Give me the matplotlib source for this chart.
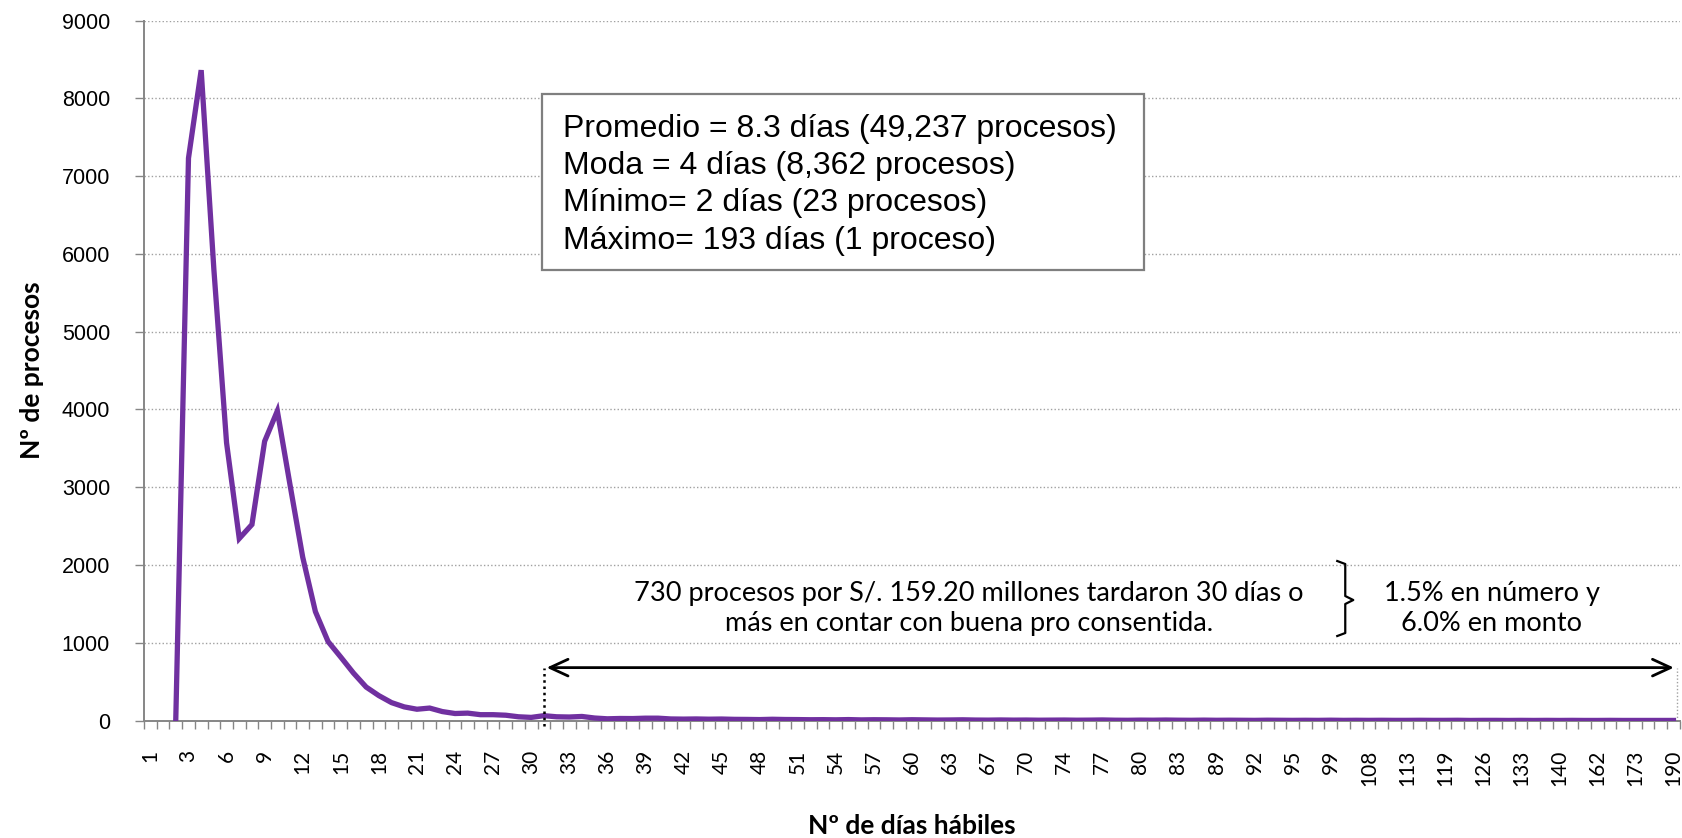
import matplotlib
matplotlib.use('Agg')
import matplotlib.pyplot as plt
from matplotlib.ticker import FixedLocator, MultipleLocator
import numpy as np

# categorias del eje x (dias habiles); la 2a categoria no tiene etiqueta
dias = (["1", ""] + [str(d) for d in range(2, 66)] +
        ["67", "68", "69", "70", "72", "73", "74", "75", "76", "77", "78",
         "79", "80", "81", "82", "83", "85", "86", "89", "90", "91", "92",
         "93", "94", "95", "96", "97", "99", "102", "105", "108", "110",
         "111", "113", "115", "117", "119", "121", "124", "126", "129",
         "131", "133", "135", "137", "140", "145", "150", "162", "165",
         "170", "173", "180", "185", "190"])

# numero de procesos por categoria (None = sin dato)
procesos = [None, None, 23, 7230, 8362, 5800, 3570, 2340, 2520, 3590,
            3980, 3030, 2100, 1400, 1015, 815, 610, 430, 320, 230,
            175, 145, 160, 115, 90, 95, 75, 75, 68, 48,
            40, 62, 48, 45, 52, 32, 22, 26, 25, 30,
            30, 20, 18, 20, 17, 19, 15, 14, 12, 16,
            13, 12, 10, 11, 9, 12, 8, 10, 9, 7,
            10, 8, 6, 7, 9, 6, 5, 7, 5, 6,
            4, 5, 6, 4, 5, 7, 4, 3, 5, 4,
            6, 4, 3, 5, 3, 4, 3, 2, 4, 3,
            2, 3, 2, 4, 2, 3, 2, 3, 2, 2,
            3, 2, 2, 3, 1, 2, 2, 1, 2, 1,
            2, 1, 2, 1, 1, 2, 1, 1, 1, 1,
            1]

resumen = ("Promedio = 8.3 días (49,237 procesos)\n"
           "Moda = 4 días (8,362 procesos)\n"
           "Mínimo= 2 días (23 procesos)\n"
           "Máximo= 193 días (1 proceso)")
nota = ("730 procesos por S/. 159.20 millones tardaron 30 días o\n"
        "más en contar con buena pro consentida.")
nota2 = "1.5% en número y\n6.0% en monto"
inicio_30 = 31  # categoria donde empiezan los 30 dias o mas

gris = '#868686'
morado = '#7030A0'
calibri = ['Lato', 'DejaVu Sans']
arial = ['Liberation Sans', 'DejaVu Sans']

fig = plt.figure(figsize=(16.83, 8.38), dpi=100)
ax = fig.add_axes([0.0856, 0.1402, 0.9125, 0.8353])

n = len(dias)
x = np.arange(n) + 0.5
y = np.array([np.nan if v is None else v for v in procesos], dtype=float)
ax.plot(x, y, color=morado, lw=3.8, solid_joinstyle='miter', zorder=3)

ax.set_xlim(0, n)
ax.set_ylim(0, 9000)

# eje y
ax.yaxis.set_major_locator(MultipleLocator(1000))
ax.tick_params(axis='y', direction='out', length=6.5, width=1, color=gris,
               pad=18, labelsize=15.5)
for lab in ax.get_yticklabels():
    lab.set_family(arial)
ax.yaxis.grid(True, linestyle=(0, (1, 1.6)), color='#A0A0A0', lw=1)
ax.set_axisbelow(True)

# eje x: marcas entre categorias, etiquetas cada 3
idx = list(range(0, n, 3))
ax.set_xticks([i + 0.5 for i in idx])
ax.set_xticklabels([dias[i] for i in idx], rotation=90, va='top',
                   ha='center', family=calibri, fontsize=15)
ax.xaxis.set_minor_locator(FixedLocator(np.arange(0, n + 1)))
ax.tick_params(axis='x', which='major', length=0, pad=21)
ax.tick_params(axis='x', which='minor', direction='out', length=6,
               width=1, color=gris)

for s in ['top', 'right']:
    ax.spines[s].set_visible(False)
for s in ['left', 'bottom']:
    ax.spines[s].set_color(gris)
    ax.spines[s].set_linewidth(1.4)

ax.set_ylabel('Nº de procesos', family=calibri, fontweight='bold',
              fontsize=19, va='center')
ax.yaxis.set_label_coords(-0.0727, 0.5)
ax.set_xlabel('Nº de días hábiles', family=calibri, fontweight='bold',
              fontsize=19, va='center')
ax.xaxis.set_label_coords(0.5, -0.150)

# cuadro con estadisticos
ax.add_patch(plt.Rectangle((31.35, 5790), 47.4, 2270, transform=ax.transData,
                           fill=True, facecolor='white', edgecolor='#7F7F7F',
                           lw=1.6, zorder=4))
ax.text(33.0, 6890, resumen, family=arial, fontsize=23, va='center',
        ha='left', linespacing=1.32, zorder=5)

# flecha de 30 dias o mas
y_flecha = 680
ax.annotate('', xy=(n - 0.25, y_flecha), xytext=(inicio_30 + 0.5, y_flecha),
            arrowprops=dict(arrowstyle='<->,head_length=1.3,head_width=0.6',
                            color='black', lw=2), zorder=5)
ax.plot([inicio_30 + 0.5, inicio_30 + 0.5], [-70, y_flecha], color='black',
        lw=1.8, linestyle=(0, (1, 1.5)), clip_on=False, zorder=5)
ax.plot([n - 0.25, n - 0.25], [0, y_flecha], color='#A0A0A0',
        lw=1, linestyle=(0, (1, 1.5)), clip_on=False, zorder=2)

ax.text(65.0, 1440, nota, family=calibri, fontsize=19.5, ha='center',
        va='center', linespacing=1.22, zorder=5)

# llave
bx = np.array([1337, 1345, 1345, 1353, 1345, 1345, 1337])
by = np.array([561, 564, 596, 600, 604, 633, 636])
ax.plot((bx - 144) / 12.69, (720.5 - by) / 0.07778, color='black', lw=1.6,
        zorder=5)

ax.text(106.2, 1440, nota2, family=calibri, fontsize=19.5, ha='center',
        va='center', linespacing=1.22, zorder=5)

fig.savefig('out.png', dpi=100)
